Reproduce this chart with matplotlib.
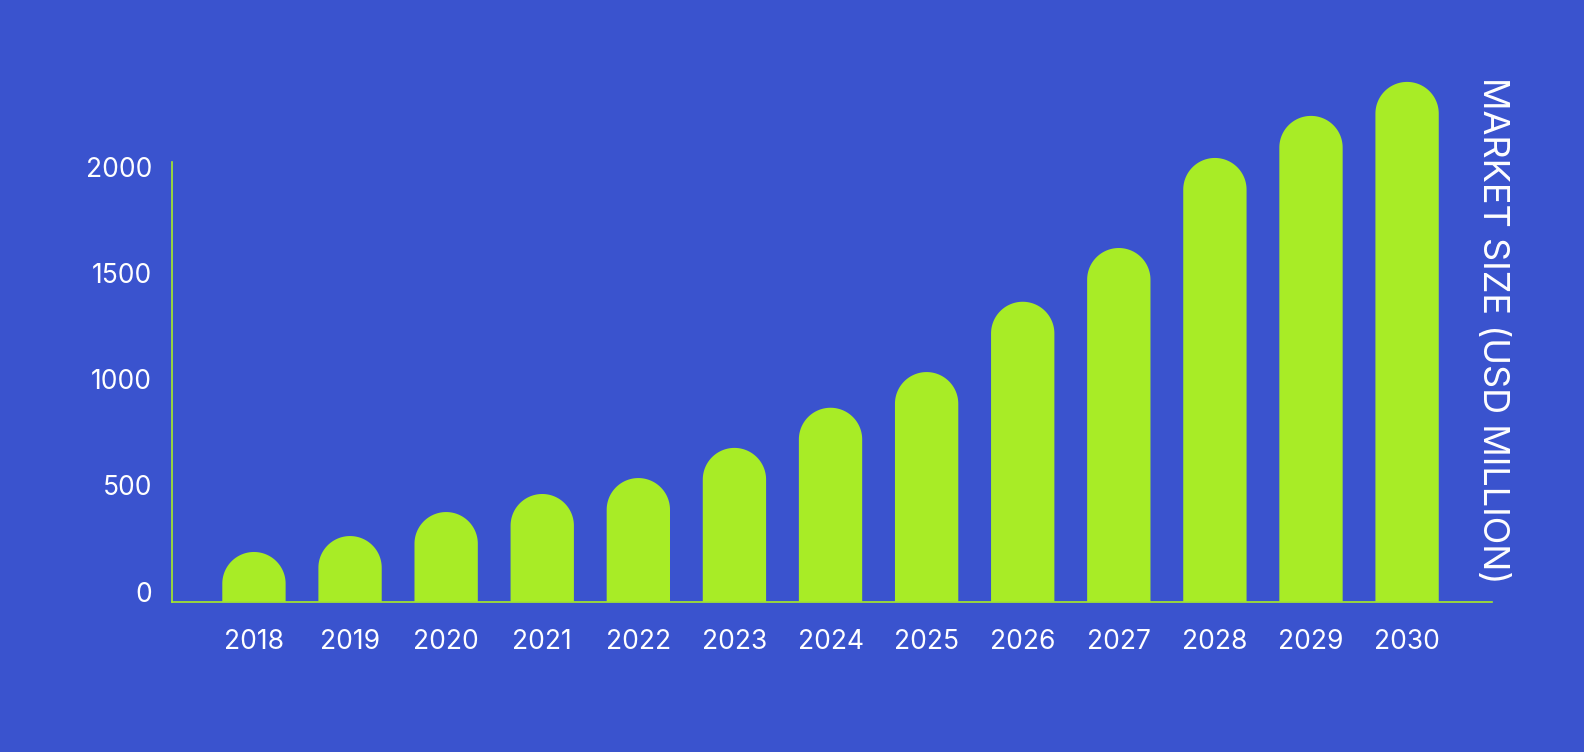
import numpy as np
import matplotlib
matplotlib.use("Agg")
import matplotlib.pyplot as plt
from matplotlib.transforms import ScaledTranslation

# datos del grafico
years = ['2018', '2019', '2020', '2021', '2022', '2023', '2024',
         '2025', '2026', '2027', '2028', '2029', '2030']
market_size = [234, 309, 422, 507, 582, 724, 913, 1081, 1412, 1665, 2089, 2287, 2447]
yticks = [0, 500, 1000, 1500, 2000]

bg = '#3A53CE'
green = '#A8EC26'

plt.rcParams['font.family'] = ['Inter', 'DejaVu Sans']

fig = plt.figure(figsize=(15.84, 7.52), dpi=100, facecolor=bg)
ax = fig.add_axes([0.1084, 0.1999, 0.8333, 0.7344])
ax.set_facecolor(bg)

ymax = 2600
ax.set_ylim(0, ymax)
ax.set_xlim(-0.856, 12.88)

x = np.arange(len(years))
bar_w = 0.659
hw = bar_w / 2

# radio del extremo redondeado en unidades de datos
bb = ax.get_window_extent()
px_x = bb.width / (12.88 + 0.856)
px_y = bb.height / ymax
r_y = hw * px_x / px_y

# cada barra es un solo poligono: rectangulo + semicirculo arriba
t = np.linspace(0, np.pi, 80)
for xi, v in zip(x, market_size):
    c = v - r_y
    xs = np.concatenate([[xi + hw], xi + hw * np.cos(t), [xi - hw]])
    ys = np.concatenate([[0], c + r_y * np.sin(t), [0]])
    ax.fill(xs, ys, color=green, linewidth=0, zorder=2)

# ejes
for s in ['top', 'right']:
    ax.spines[s].set_visible(False)
for s in ['left', 'bottom']:
    ax.spines[s].set_color(green)
    ax.spines[s].set_linewidth(1.2)
    ax.spines[s].set_zorder(3)
ax.spines['left'].set_bounds(0, 2070)

ax.set_yticks(yticks)
ax.set_yticklabels([str(t) for t in yticks])
ax.set_xticks(x)
ax.set_xticklabels(years)
ax.tick_params(axis='y', length=0, pad=14, labelsize=19, labelcolor='white')
ax.tick_params(axis='x', length=0, pad=20, labelsize=19, labelcolor='white')
off = ScaledTranslation(0, 0.07, fig.dpi_scale_trans)
for lbl in ax.get_yticklabels():
    lbl.set_verticalalignment('center')
    lbl.set_transform(lbl.get_transform() + off)

fig.text(1492 / 1584, 1 - 330 / 752, 'MARKET SIZE (USD MILLION)', rotation=-90,
         ha='center', va='center', color='white', fontsize=26)

fig.savefig('out.png', dpi=100, facecolor=bg)
